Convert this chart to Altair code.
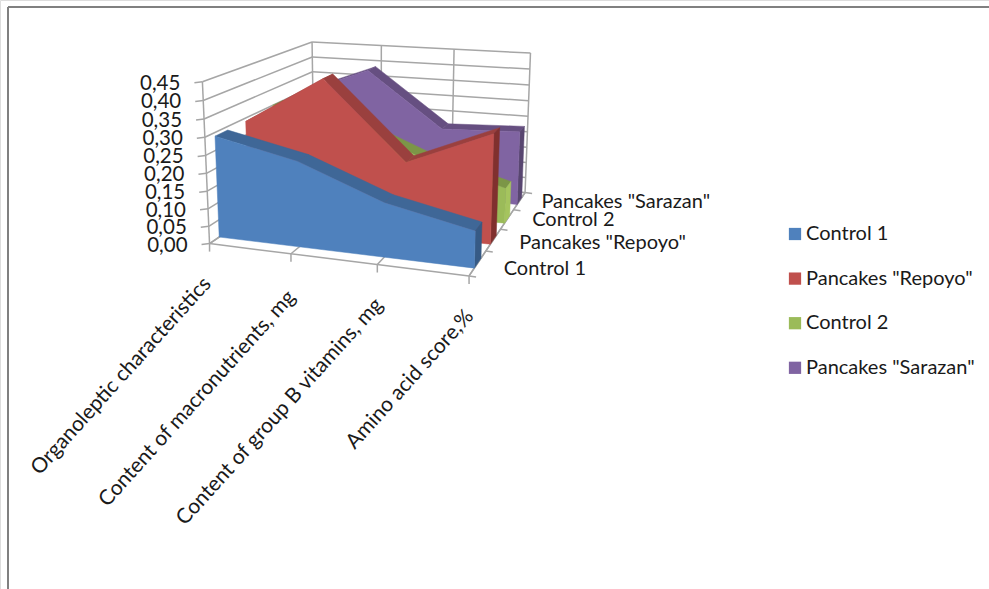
import altair as alt
import numpy as np
import pandas as pd

categories = ["Organoleptic characteristics", "Content of macronutrients, mg",
              "Content of group B vitamins, mg", "Amino acid score,%"]
series_names = ["Control 1", 'Pancakes "Repoyo"', "Control 2", 'Pancakes "Sarazan"']
control_1 = [0.29, 0.24, 0.15, 0.10]
repoyo = [0.29, 0.43, 0.21, 0.31]
control_2 = [0.30, 0.265, 0.17, 0.105]
sarazan = [0.30, 0.39, 0.22, 0.23]
value_ticks = [0.00, 0.05, 0.10, 0.15, 0.20, 0.25, 0.30, 0.35, 0.40, 0.45]
value_labels = ["0,00", "0,05", "0,10", "0,15", "0,20", "0,25", "0,30", "0,35", "0,40", "0,45"]

face_colors = ["#4F81BD", "#C0504D", "#9BBB59", "#8064A2"]
top_colors = ["#3F6797", "#9A403E", "#7C9647", "#664F81"]
side_colors = ["#365A85", "#80302E", "#A5C45E", "#584670"]

W, H = 989, 589
VMAX = 0.45
NCAT = len(categories) - 1

# Perspective camera fitted to landmarks of the plot box: (category, depth, value) -> (px, px)
box_3d = [(0, 0, 0), (1, 0, 0), (2, 0, 0), (NCAT, 0, 0), (NCAT, 1, 0), (0, 1, 0),
          (0, 0, VMAX), (NCAT, 0, VMAX), (NCAT, 1, VMAX), (0, 1, VMAX), (1, 1, VMAX), (2, 1, VMAX)]
box_2d = [(209, 240), (289, 252), (377, 264), (471, 278), (525, 190), (315, 178),
          (202, 83), (475, 103), (529, 53), (313, 40), (382, 45), (453, 48.5)]
rows, rhs = [], []
for (a, b, c), (px, py) in zip(box_3d, box_2d):
    rows.append([a, b, c, 1, 0, 0, 0, 0, -px * a, -px * b, -px * c])
    rhs.append(px)
    rows.append([0, 0, 0, 0, a, b, c, 1, -py * a, -py * b, -py * c])
    rhs.append(py)
sol = np.linalg.lstsq(np.array(rows, float), np.array(rhs, float), rcond=None)[0]
CAM = np.append(sol, 1.0).reshape(3, 4)


def project(u, s, v):
    q = CAM @ np.array([u, s, v, 1.0])
    return q[0] / q[2], q[1] / q[2]


polys = []
poly_id = 0


def add_poly(points, color):
    global poly_id
    poly_id += 1
    for k, (u, s, v) in enumerate(points):
        px, py = project(u, s, v)
        polys.append({"poly": poly_id, "k": k, "px": px, "py": py, "color": color})


# Series bands are painted from the back of the box to the front
all_series = [control_1, repoyo, control_2, sarazan]
for i in (3, 2, 1, 0):
    vals = all_series[i]
    s_f = (i + 0.30) / 4
    s_b = (i + 0.70) / 4
    for c in range(NCAT):
        add_poly([(c, s_f, vals[c]), (c + 1, s_f, vals[c + 1]),
                  (c + 1, s_b, vals[c + 1]), (c, s_b, vals[c])], top_colors[i])
    add_poly([(NCAT, s_f, 0), (NCAT, s_b, 0), (NCAT, s_b, vals[NCAT]), (NCAT, s_f, vals[NCAT])], side_colors[i])
    add_poly([(0, s_f, 0), (NCAT, s_f, 0)] + [(c, s_f, vals[c]) for c in range(NCAT, -1, -1)], face_colors[i])
poly_df = pd.DataFrame(polys)

# Grid, axis lines and ticks
segs = []


def add_seg(a, b):
    x1, y1 = project(*a)
    x2, y2 = project(*b)
    segs.append({"x1": x1, "y1": y1, "x2": x2, "y2": y2})


for v in value_ticks:
    add_seg((0, 0, v), (0, 1, v))
    add_seg((0, 1, v), (NCAT, 1, v))
    x0, y0 = project(0, 0, v)
    segs.append({"x1": x0 - 8, "y1": y0 + 1, "x2": x0, "y2": y0})
add_seg((0, 0, 0), (0, 0, VMAX))
for c in range(NCAT + 1):
    add_seg((c, 1, 0), (c, 1, VMAX))
    add_seg((c, 0, 0), (c, 1, 0))
    x0, y0 = project(c, 0, 0)
    segs.append({"x1": x0, "y1": y0, "x2": x0, "y2": y0 + 8})
add_seg((0, 0, 0), (NCAT, 0, 0))
add_seg((NCAT, 0, 0), (NCAT, 1, 0))
for j in range(5):
    x0, y0 = project(NCAT, j / 4, 0)
    segs.append({"x1": x0, "y1": y0, "x2": x0 + 7, "y2": y0 + 1})
seg_df = pd.DataFrame(segs)

# Text labels
value_df = pd.DataFrame([
    {"tx": project(0, 0, v)[0] - 22, "ty": project(0, 0, v)[1] + 2, "t": t}
    for v, t in zip(value_ticks, value_labels)
])
cat_df = pd.DataFrame([
    {"tx": project(c, 0, 0)[0] + dx, "ty": project(c, 0, 0)[1] + dy, "t": t}
    for c, (t, dx, dy) in enumerate(zip(categories, [-2, 1, 2, 1], [37, 40, 37, 37]))
])
series_df = pd.DataFrame([
    {"tx": project(NCAT, (j + 0.5) / 4, 0)[0] + dx, "ty": project(NCAT, (j + 0.5) / 4, 0)[1] + dy, "t": t}
    for j, (t, dx, dy) in enumerate(zip(series_names, [26, 26, 25, 22], [6, 3, 1, 1]))
])
legend_df = pd.DataFrame([
    {"tx": 806, "ty": 234 + 44.6 * j, "sx": 795, "t": t, "color": face_colors[j]}
    for j, t in enumerate(series_names)
])
frame_df = pd.DataFrame([
    {"x1": 8, "y1": 7, "x2": W, "y2": 7},
    {"x1": 8, "y1": 7, "x2": 8, "y2": H},
])

X = alt.Scale(domain=[0, W], range=[0, W])
Y = alt.Scale(domain=[0, H], range=[0, H])
FONT = "Lato"


def rules(df, color, width):
    return alt.Chart(df).mark_rule(color=color, strokeWidth=width).encode(
        x=alt.X("x1:Q", scale=X, axis=None), x2="x2:Q",
        y=alt.Y("y1:Q", scale=Y, axis=None), y2="y2:Q")


def texts(df, size, **kw):
    return alt.Chart(df).mark_text(font=FONT, fontSize=size, color="#1a1a1a", **kw).encode(
        x=alt.X("tx:Q", scale=X, axis=None), y=alt.Y("ty:Q", scale=Y, axis=None), text="t:N")


band_layers = []
for pid, part in poly_df.groupby("poly", sort=True):
    band_layers.append(
        alt.Chart(part).mark_line(fill=part["color"].iloc[0], stroke=part["color"].iloc[0],
                                  strokeWidth=0.5, interpolate="linear-closed").encode(
            x=alt.X("px:Q", scale=X, axis=None),
            y=alt.Y("py:Q", scale=Y, axis=None),
            order="k:O"))

swatches = alt.Chart(legend_df).mark_point(shape="square", filled=True, size=150, opacity=1).encode(
    x=alt.X("sx:Q", scale=X, axis=None), y=alt.Y("ty:Q", scale=Y, axis=None),
    color=alt.Color("color:N", scale=None))

chart = alt.layer(
    rules(frame_df, "#808080", 2),
    rules(seg_df, "#A6A6A6", 1.5),
    *band_layers,
    texts(value_df, 20.5, align="right", baseline="middle"),
    texts(cat_df, 21, align="right", baseline="middle", angle=312),
    texts(series_df, 20, align="left", baseline="middle"),
    swatches,
    texts(legend_df, 20, align="left", baseline="middle"),
).properties(
    width=W, height=H, padding=0, autosize=alt.AutoSizeParams(type="none")
).configure_view(stroke=None).configure(background="white")

chart.save("out.html", embed_options={"renderer": "svg", "actions": False})
